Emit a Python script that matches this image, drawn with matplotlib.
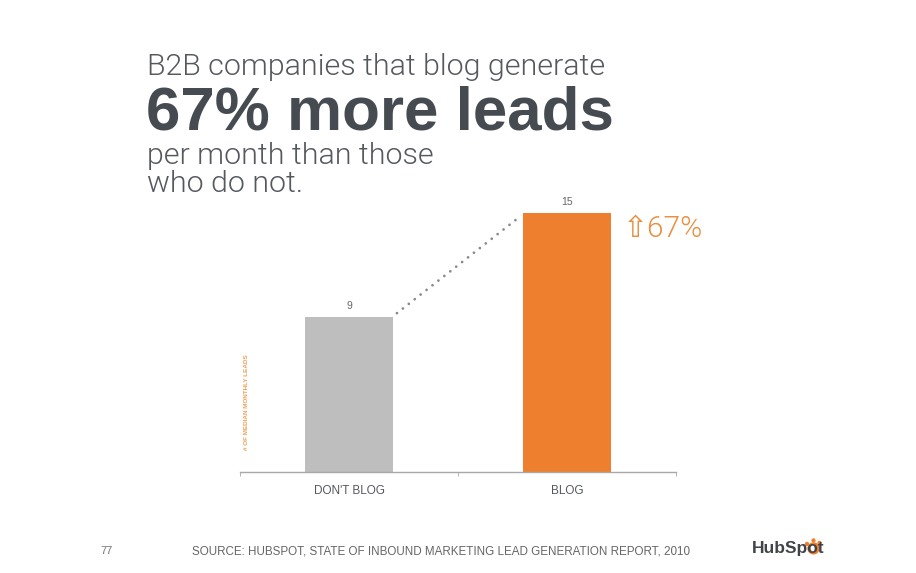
import matplotlib.pyplot as plt
from matplotlib.patches import Circle

categories = ["DON'T BLOG", "BLOG"]
leads = [9, 15]
bar_colors = ["#bebebe", "#ed7f2f"]

TXT = "#55595e"
DARK = "#464b51"
ORANGE = "#ed7f2f"

plt.rcParams["font.family"] = ["Liberation Sans", "DejaVu Sans"]
LIGHT = ["Roboto", "DejaVu Sans"]

fig = plt.figure(figsize=(9.16, 5.73), dpi=100)
ax = fig.add_axes([240 / 916, 1 - 472 / 573, 436 / 916, 259 / 573])

x = range(len(categories))
ax.bar(x, leads, width=0.4, color=bar_colors)
for xi, v in zip(x, leads):
    ax.text(xi, v + 0.35, str(v), ha="center", va="bottom", fontsize=7.5, color="#666666")

# dotted connector between the bar tops
ax.plot([0 + 0.22, 1 - 0.22], [leads[0] + 0.2, leads[1] - 0.25], linestyle=(0, (0.01, 2.7)),
        color="#8a8a8a", linewidth=2.0, dash_capstyle="round")

ax.set_xlim(-0.5, 1.5)
ax.set_ylim(0, 15)
for s in ["top", "right", "left"]:
    ax.spines[s].set_visible(False)
ax.spines["bottom"].set_color("#a8a8a8")
ax.spines["bottom"].set_linewidth(1.0)
ax.set_yticks([])
ax.set_xticks(list(x))
ax.set_xticklabels(categories, fontsize=8.5, color=TXT)
ax.tick_params(axis="x", which="major", length=0, pad=9)
ax.set_xticks([-0.5, 0.5, 1.5], minor=True)
ax.tick_params(axis="x", which="minor", length=3, color="#a8a8a8")

ax.text(0.016, 0.27, "# OF MEDIAN MONTHLY LEADS", transform=ax.transAxes, rotation=90,
        ha="center", va="center", fontsize=4.6, color="#f0a055", fontweight="bold")

# increase marker next to the blog bar
ax.text(1.255, 14.05, "\u21e767%", ha="left", va="center", fontsize=21.5, color="#e8903f",
        family=LIGHT, fontweight=300)

# headline
fig.text(147 / 916, 1 - 75 / 573, "B2B companies that blog generate", fontsize=21.9,
         color=TXT, va="baseline", ha="left", family=LIGHT, fontweight=300)
fig.text(146 / 916, 1 - 129 / 573, "67% more leads", fontsize=44.6, fontweight="bold",
         color=DARK, va="baseline", ha="left")
fig.text(147 / 916, 1 - 164 / 573, "per month than those", fontsize=21.9,
         color=TXT, va="baseline", ha="left", family=LIGHT, fontweight=300)
fig.text(147 / 916, 1 - 192 / 573, "who do not.", fontsize=21.9,
         color=TXT, va="baseline", ha="left", family=LIGHT, fontweight=300)

# footer
fig.text(100 / 916, 1 - 554 / 573, "77", fontsize=8, color="#777777", va="baseline")
fig.text(192 / 916, 1 - 554 / 573,
         "SOURCE: HUBSPOT, STATE OF INBOUND MARKETING LEAD GENERATION REPORT, 2010",
         fontsize=8.4, color="#666666", va="baseline")

# logo: dark word with an orange ring over the "o"
logo_x, logo_y = 752, 553
logo = fig.text(logo_x / 916, 1 - logo_y / 573, "HubSpot", fontsize=12.5, fontweight="bold",
                color="#404448", va="baseline")
fig.canvas.draw()
renderer = fig.canvas.get_renderer()
probe = fig.text(logo_x / 916, 1 - logo_y / 573, "HubSp", fontsize=12.5, fontweight="bold")
x_p = probe.get_window_extent(renderer).x1
probe.set_text("HubSpo")
x_o = probe.get_window_extent(renderer).x1
probe.remove()
cx = (x_p + x_o) / 2
cy = fig.bbox.height - logo_y + 4.6
fig.add_artist(Circle((cx, cy), 4.6, transform=None, facecolor="white",
                      edgecolor=ORANGE, linewidth=2.2))
for dx, dy in [(0, 8), (-6.5, 4.5), (6, 5.5)]:
    fig.add_artist(Circle((cx + dx, cy + dy), 1.4, transform=None, color=ORANGE))

fig.savefig("out.png", dpi=100)
